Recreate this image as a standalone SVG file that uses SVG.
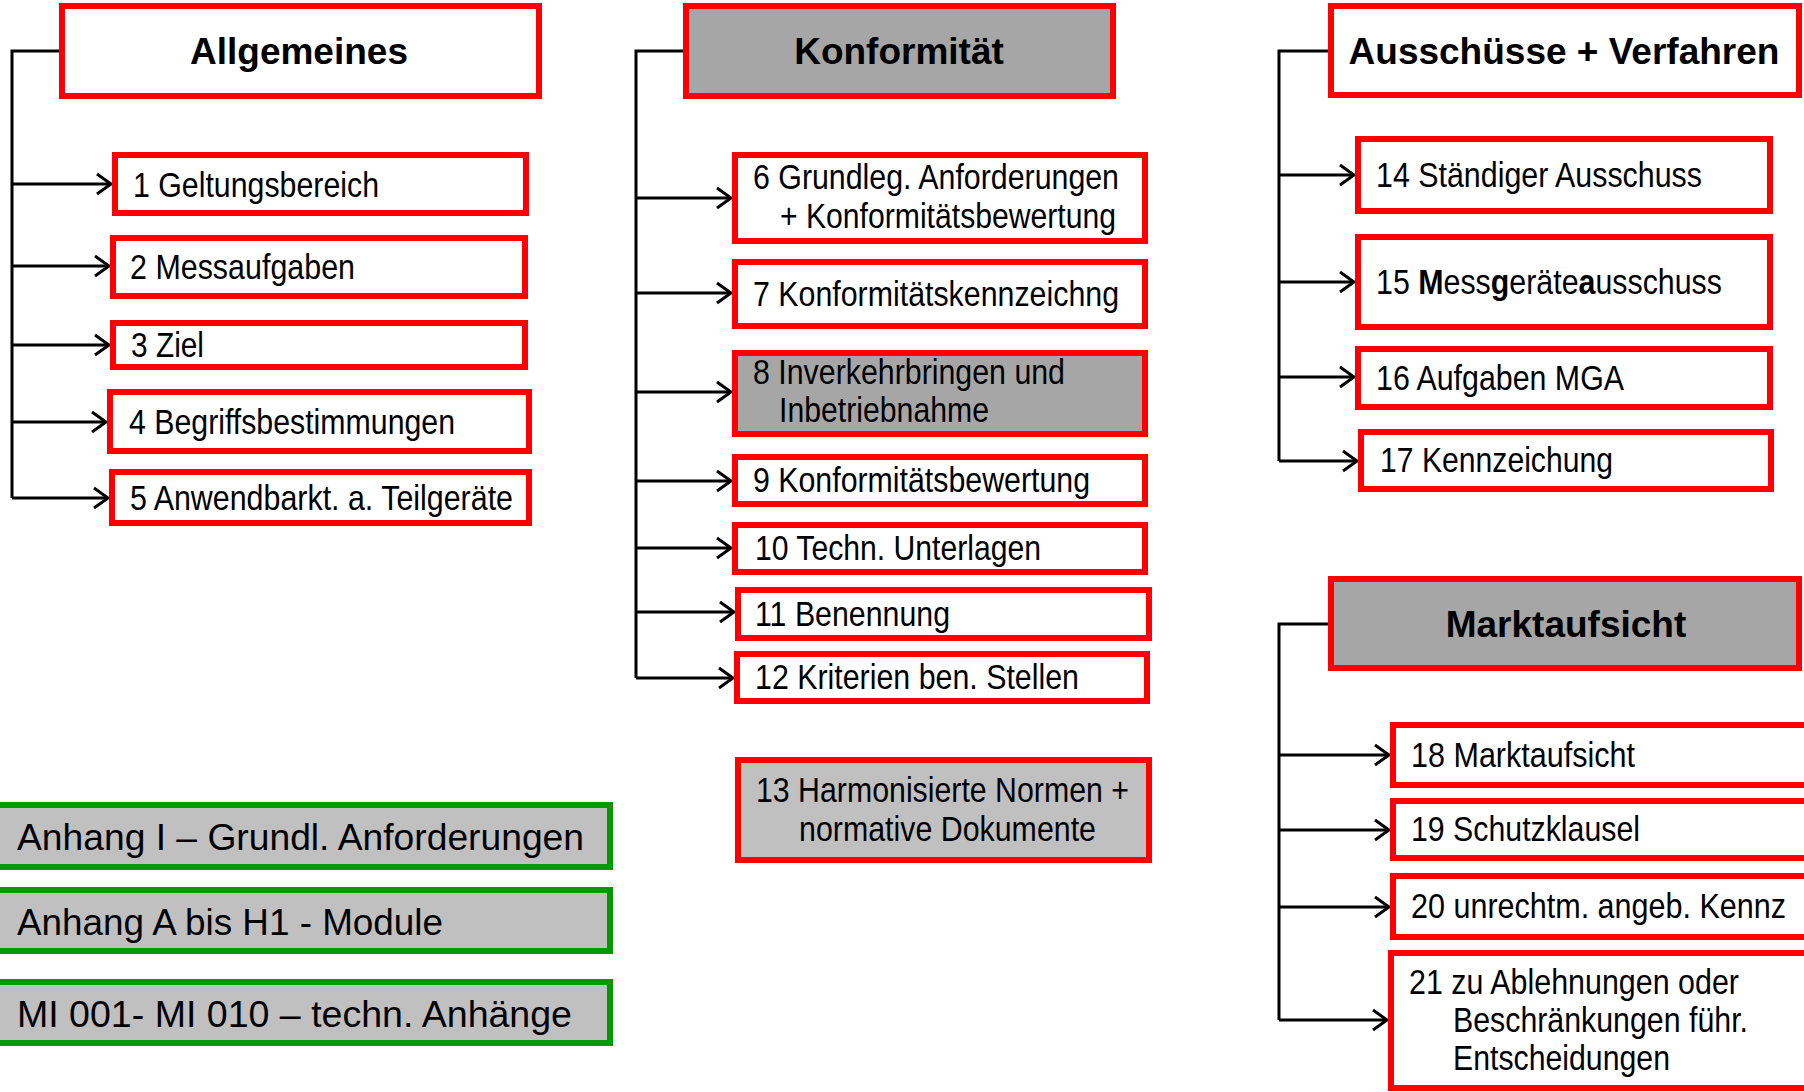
<svg xmlns="http://www.w3.org/2000/svg" width="1804" height="1092" viewBox="0 0 1804 1092">
<style>
.hd{fill:#fff;stroke:#ff0000;stroke-width:6}
.hdg{fill:#a6a6a6;stroke:#ff0000;stroke-width:6}
.it{fill:#fff;stroke:#ff0000;stroke-width:6}
.itg{fill:#a6a6a6;stroke:#ff0000;stroke-width:6}
.itl{fill:#c0c0c0;stroke:#ff0000;stroke-width:6}
.gr{fill:#c0c0c0;stroke:#009900;stroke-width:6}
.ht{font-family:"Liberation Sans",Arial,sans-serif;font-weight:bold;font-size:37px;fill:#000;text-anchor:middle}
.t{font-family:"Liberation Sans Narrow","Liberation Sans",Arial,sans-serif;font-size:35px;fill:#000}
.g{font-family:"Liberation Sans Narrow","Liberation Sans",Arial,sans-serif;font-size:36px;fill:#000}
.c{fill:none;stroke:#000;stroke-width:3}
</style>
<defs>
<marker id="ar" markerUnits="userSpaceOnUse" markerWidth="20" markerHeight="24" refX="16" refY="12" orient="auto">
<path d="M2,2 L16,12 L2,22" fill="none" stroke="#000" stroke-width="3"/>
</marker>
</defs>
<g id="connectors">
<polyline class="c" points="59,51 12,51 12,498"/>
<line class="c" x1="12" y1="184" x2="111" y2="184" marker-end="url(#ar)"/>
<line class="c" x1="12" y1="266" x2="109" y2="266" marker-end="url(#ar)"/>
<line class="c" x1="12" y1="345" x2="109" y2="345" marker-end="url(#ar)"/>
<line class="c" x1="12" y1="422" x2="106" y2="422" marker-end="url(#ar)"/>
<line class="c" x1="12" y1="498" x2="108" y2="498" marker-end="url(#ar)"/>
<polyline class="c" points="683,51 636,51 636,678"/>
<line class="c" x1="636" y1="198" x2="731" y2="198" marker-end="url(#ar)"/>
<line class="c" x1="636" y1="293" x2="731" y2="293" marker-end="url(#ar)"/>
<line class="c" x1="636" y1="392" x2="731" y2="392" marker-end="url(#ar)"/>
<line class="c" x1="636" y1="481" x2="731" y2="481" marker-end="url(#ar)"/>
<line class="c" x1="636" y1="548" x2="731" y2="548" marker-end="url(#ar)"/>
<line class="c" x1="636" y1="612" x2="734" y2="612" marker-end="url(#ar)"/>
<line class="c" x1="636" y1="678" x2="733" y2="678" marker-end="url(#ar)"/>
<polyline class="c" points="1328,51 1279,51 1279,461"/>
<line class="c" x1="1279" y1="175" x2="1354" y2="175" marker-end="url(#ar)"/>
<line class="c" x1="1279" y1="282" x2="1354" y2="282" marker-end="url(#ar)"/>
<line class="c" x1="1279" y1="377" x2="1354" y2="377" marker-end="url(#ar)"/>
<line class="c" x1="1279" y1="461" x2="1357" y2="461" marker-end="url(#ar)"/>
<polyline class="c" points="1328,624 1279,624 1279,1020"/>
<line class="c" x1="1279" y1="755" x2="1389" y2="755" marker-end="url(#ar)"/>
<line class="c" x1="1279" y1="830" x2="1389" y2="830" marker-end="url(#ar)"/>
<line class="c" x1="1279" y1="907" x2="1389" y2="907" marker-end="url(#ar)"/>
<line class="c" x1="1279" y1="1020" x2="1387" y2="1020" marker-end="url(#ar)"/>
</g>
<g id="allgemeines"><rect class="hd" x="62" y="6" width="477" height="90"/><text class="ht" x="299" y="64">Allgemeines</text></g>
<g id="n1"><rect class="it" x="115" y="155" width="411" height="58"/><text class="t" x="133" y="197" textLength="246" lengthAdjust="spacingAndGlyphs">1 Geltungsbereich</text></g>
<g id="n2"><rect class="it" x="113" y="238" width="412" height="58"/><text class="t" x="130" y="279" textLength="225" lengthAdjust="spacingAndGlyphs">2 Messaufgaben</text></g>
<g id="n3"><rect class="it" x="113" y="323" width="412" height="44"/><text class="t" x="131" y="357" textLength="73" lengthAdjust="spacingAndGlyphs">3 Ziel</text></g>
<g id="n4"><rect class="it" x="110" y="392" width="419" height="59"/><text class="t" x="129" y="434" textLength="326" lengthAdjust="spacingAndGlyphs">4 Begriffsbestimmungen</text></g>
<g id="n5"><rect class="it" x="112" y="472" width="417" height="51"/><text class="t" x="130" y="510" textLength="383" lengthAdjust="spacingAndGlyphs">5 Anwendbarkt. a. Teilgeräte</text></g>
<g id="konformitaet"><rect class="hdg" x="686" y="6" width="427" height="90"/><text class="ht" x="899" y="64">Konformität</text></g>
<g id="n6"><rect class="it" x="735" y="155" width="410" height="86"/><text class="t" x="753" y="189" textLength="366" lengthAdjust="spacingAndGlyphs">6 Grundleg. Anforderungen</text><text class="t" x="780" y="228" textLength="336" lengthAdjust="spacingAndGlyphs">+ Konformitätsbewertung</text></g>
<g id="n7"><rect class="it" x="735" y="262" width="410" height="64"/><text class="t" x="753" y="306" textLength="366" lengthAdjust="spacingAndGlyphs">7 Konformitätskennzeichng</text></g>
<g id="n8"><rect class="itg" x="735" y="353" width="410" height="81"/><text class="t" x="753" y="384" textLength="312" lengthAdjust="spacingAndGlyphs">8 Inverkehrbringen und</text><text class="t" x="779" y="422" textLength="210" lengthAdjust="spacingAndGlyphs">Inbetriebnahme</text></g>
<g id="n9"><rect class="it" x="735" y="457" width="410" height="47"/><text class="t" x="753" y="492" textLength="337" lengthAdjust="spacingAndGlyphs">9 Konformitätsbewertung</text></g>
<g id="n10"><rect class="it" x="735" y="525" width="410" height="47"/><text class="t" x="755" y="560" textLength="286" lengthAdjust="spacingAndGlyphs">10 Techn. Unterlagen</text></g>
<g id="n11"><rect class="it" x="738" y="590" width="411" height="48"/><text class="t" x="755" y="626" textLength="195" lengthAdjust="spacingAndGlyphs">11 Benennung</text></g>
<g id="n12"><rect class="it" x="737" y="654" width="410" height="47"/><text class="t" x="755" y="689" textLength="324" lengthAdjust="spacingAndGlyphs">12 Kriterien ben. Stellen</text></g>
<g id="n13"><rect class="itl" x="738" y="760" width="411" height="100"/><text class="t" x="756" y="802" textLength="373" lengthAdjust="spacingAndGlyphs">13 Harmonisierte Normen +</text><text class="t" x="799" y="841" textLength="297" lengthAdjust="spacingAndGlyphs">normative Dokumente</text></g>
<g id="ausschuesse"><rect class="hd" x="1331" y="6" width="468" height="89"/><text class="ht" x="1564" y="64">Ausschüsse + Verfahren</text></g>
<g id="n14"><rect class="it" x="1358" y="139" width="412" height="72"/><text class="t" x="1376" y="187" textLength="326" lengthAdjust="spacingAndGlyphs">14 Ständiger Ausschuss</text></g>
<g id="n15"><rect class="it" x="1358" y="237" width="412" height="90"/><text class="t" x="1376" y="294" textLength="346" lengthAdjust="spacingAndGlyphs">15 <tspan font-weight="bold">M</tspan>ess<tspan font-weight="bold">g</tspan>eräte<tspan font-weight="bold">a</tspan>usschuss</text></g>
<g id="n16"><rect class="it" x="1358" y="349" width="412" height="58"/><text class="t" x="1376" y="390" textLength="248" lengthAdjust="spacingAndGlyphs">16 Aufgaben MGA</text></g>
<g id="n17"><rect class="it" x="1361" y="432" width="410" height="57"/><text class="t" x="1380" y="472" textLength="233" lengthAdjust="spacingAndGlyphs">17 Kennzeichung</text></g>
<g id="marktaufsicht"><rect class="hdg" x="1331" y="579" width="468" height="89"/><text class="ht" x="1566" y="637">Marktaufsicht</text></g>
<g id="n18"><rect class="it" x="1393" y="725" width="420" height="60"/><text class="t" x="1411" y="767" textLength="224" lengthAdjust="spacingAndGlyphs">18 Marktaufsicht</text></g>
<g id="n19"><rect class="it" x="1393" y="801" width="420" height="57"/><text class="t" x="1411" y="841" textLength="229" lengthAdjust="spacingAndGlyphs">19 Schutzklausel</text></g>
<g id="n20"><rect class="it" x="1393" y="876" width="420" height="61"/><text class="t" x="1411" y="918" textLength="375" lengthAdjust="spacingAndGlyphs">20 unrechtm. angeb. Kennz</text></g>
<g id="n21"><rect class="it" x="1391" y="953" width="420" height="135"/><text class="t" x="1409" y="994" textLength="330" lengthAdjust="spacingAndGlyphs">21 zu Ablehnungen oder</text><text class="t" x="1453" y="1032" textLength="295" lengthAdjust="spacingAndGlyphs">Beschränkungen führ.</text><text class="t" x="1453" y="1070" textLength="217" lengthAdjust="spacingAndGlyphs">Entscheidungen</text></g>
<g id="anhang1"><rect class="gr" x="-10" y="805" width="620" height="62"/><text class="g" x="17" y="850" textLength="567" lengthAdjust="spacingAndGlyphs">Anhang I – Grundl. Anforderungen</text></g>
<g id="anhang2"><rect class="gr" x="-10" y="890" width="620" height="61"/><text class="g" x="17" y="935" textLength="426" lengthAdjust="spacingAndGlyphs">Anhang A bis H1 - Module</text></g>
<g id="mi"><rect class="gr" x="-10" y="982" width="620" height="61"/><text class="g" x="17" y="1027" textLength="555" lengthAdjust="spacingAndGlyphs">MI 001- MI 010 – techn. Anhänge</text></g>
</svg>
